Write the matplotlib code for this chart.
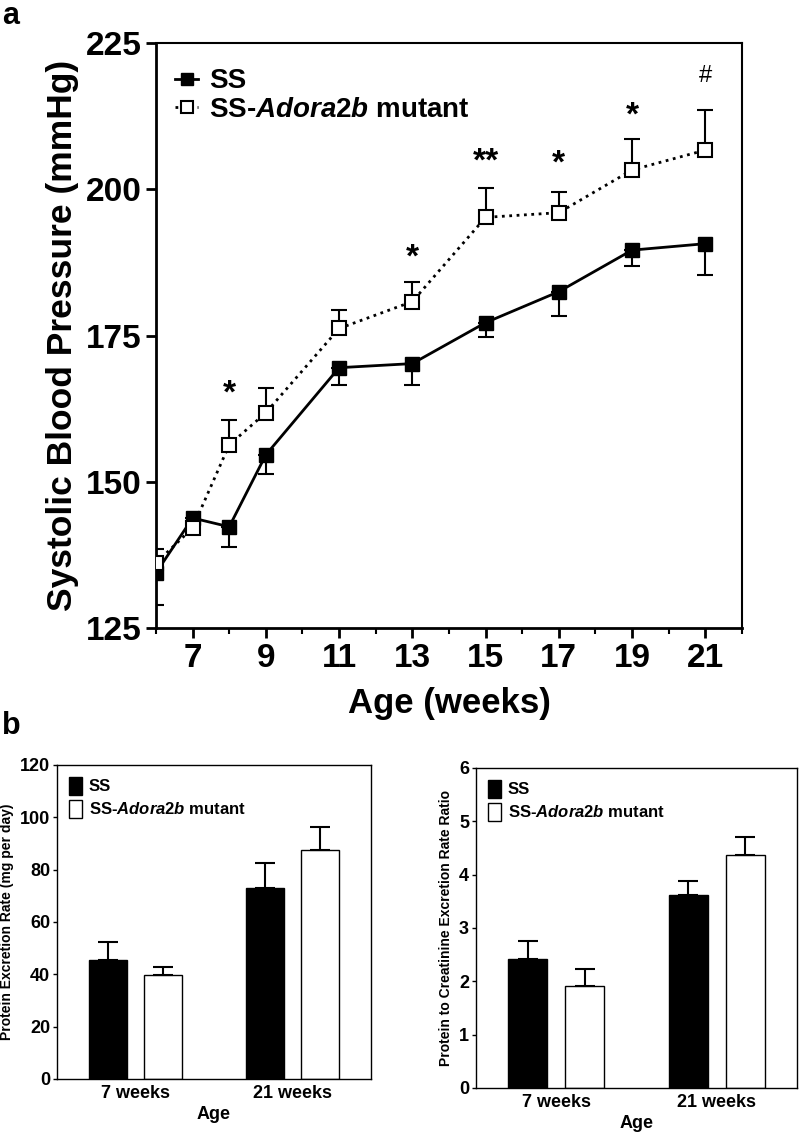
import matplotlib
matplotlib.use("Agg")
import matplotlib.pyplot as plt
from matplotlib.patches import Patch
from matplotlib.lines import Line2D

plt.rcParams['font.family'] = ['Liberation Sans', 'DejaVu Sans']
plt.rcParams['font.weight'] = 'bold'
plt.rcParams['axes.labelweight'] = 'bold'
plt.rcParams['mathtext.fontset'] = 'custom'
plt.rcParams['mathtext.it'] = 'Liberation Sans:italic:bold'
plt.rcParams['mathtext.rm'] = 'Liberation Sans:bold'

# Data - panel a
weeks = [6, 7, 8, 9, 11, 13, 15, 17, 19, 21]
ss_bp = [134.4, 143.8, 142.3, 154.6, 169.5, 170.2, 177.2, 182.5, 189.6, 190.7]
ss_err = [5.5, 0.8, 3.4, 3.2, 2.9, 3.6, 2.5, 4.1, 2.8, 5.3]
mut_bp = [136.1, 142.1, 156.3, 161.8, 176.2, 180.8, 195.2, 196.0, 203.3, 206.7]
mut_err = [2.4, 0.8, 4.3, 4.3, 3.1, 3.4, 5.0, 3.5, 5.3, 6.8]
sig_weeks = [8, 13, 15, 17, 19, 21]
sig_marks = ["*", "*", "**", "*", "*", "#"]
sig_y = [165.0, 188.3, 204.6, 204.3, 212.6, 219.3]

# Data - panel b
ages = ["7 weeks", "21 weeks"]
prot_ss = [45.5, 73.0]
prot_ss_err = [6.8, 9.5]
prot_mut = [39.7, 87.5]
prot_mut_err = [3.1, 8.8]
ratio_ss = [2.42, 3.62]
ratio_ss_err = [0.34, 0.26]
ratio_mut = [1.91, 4.37]
ratio_mut_err = [0.32, 0.34]

mut_label = r"SS-$\it{Adora2b}$ mutant"

fig = plt.figure(figsize=(7.99, 11.36), dpi=100)

# ---- panel a
ax = fig.add_axes([0.1952, 0.4472, 0.7334, 0.5149])
zeros = [0] * len(weeks)
ax.errorbar(weeks, ss_bp, yerr=[ss_err, zeros], color='black', lw=2.0,
            marker='s', ms=9.5, mfc='black', mec='black', capsize=6, capthick=1.5,
            elinewidth=1.5, zorder=3)
ax.errorbar(weeks, mut_bp, yerr=[zeros, mut_err], color='black', lw=2.0, ls=':',
            marker='s', ms=9.5, mfc='white', mec='black', mew=1.5, capsize=6,
            capthick=1.5, elinewidth=1.5, zorder=4)
for w, m, y in zip(sig_weeks, sig_marks, sig_y):
    if m == "#":
        ax.text(w, y, m, ha='center', va='center', fontsize=17, fontweight='normal')
    else:
        ax.text(w, y, m, ha='center', va='center', fontsize=24)

ax.set_xlim(6, 22)
ax.set_ylim(125, 225)
ax.set_xticks([7, 9, 11, 13, 15, 17, 19, 21])
ax.set_xticks([6, 8, 10, 12, 14, 16, 18, 20, 22], minor=True)
ax.set_yticks([125, 150, 175, 200, 225])
ax.tick_params(axis='both', which='major', labelsize=24, length=7, width=2, direction='out')
ax.tick_params(axis='x', which='minor', length=4, width=1.5)
for s in ['left', 'bottom']:
    ax.spines[s].set_linewidth(2)
for s in ['top', 'right']:
    ax.spines[s].set_linewidth(1.5)
ax.set_ylabel("Systolic Blood Pressure (mmHg)", fontsize=25.5, labelpad=5)
ax.set_xlabel("Age (weeks)", fontsize=25, labelpad=10)

handles = [Line2D([], [], color='black', lw=2, marker='s', ms=8, mfc='black'),
           Line2D([], [], color='black', lw=2, ls=':', marker='s', ms=8,
                  mfc='white', mew=1.5)]
ax.legend(handles, ["SS", mut_label], loc='upper left', frameon=False,
          fontsize=20, handlelength=0.8, handletextpad=0.4, labelspacing=0.1,
          borderaxespad=0.3, bbox_to_anchor=(0.0, 0.99))

fig.text(0.003, 0.999, "a", fontsize=22, va='top', ha='left')
fig.text(0.003, 0.374, "b", fontsize=22, va='top', ha='left')


def bar_panel(axb, ss, ss_e, mut, mut_e, ylim, yticks, ylabel):
    x = [0, 1]
    off = 0.178
    w = 0.242
    xs = [v - off for v in x]
    xm = [v + off for v in x]
    axb.bar(xs, ss, width=w, color='black', edgecolor='black', lw=1)
    axb.bar(xm, mut, width=w, color='white', edgecolor='black', lw=1)
    axb.errorbar(xs, ss, yerr=[[0, 0], ss_e], fmt='none', ecolor='black',
                 elinewidth=1.5, capsize=7, capthick=1.5)
    axb.errorbar(xm, mut, yerr=[[0, 0], mut_e], fmt='none', ecolor='black',
                 elinewidth=1.5, capsize=7, capthick=1.5)
    axb.set_xlim(-0.5, 1.5)
    axb.set_ylim(*ylim)
    axb.set_yticks(yticks)
    axb.set_xticks(x)
    axb.set_xticklabels(ages)
    axb.tick_params(axis='y', labelsize=13, length=3, width=1, pad=2)
    axb.tick_params(axis='x', labelsize=13, length=0, pad=4)
    for s in axb.spines.values():
        s.set_linewidth(1)
    axb.set_ylabel(ylabel, fontsize=10, labelpad=4)
    axb.set_xlabel("Age", fontsize=13, labelpad=3)
    hb = [Patch(facecolor='black', edgecolor='black'),
          Patch(facecolor='white', edgecolor='black')]
    axb.legend(hb, ["SS", mut_label], loc='upper left', frameon=False, fontsize=12,
               handlelength=0.8, handleheight=1.3, handletextpad=0.4,
               labelspacing=0.3, borderaxespad=0.3)


ax1 = fig.add_axes([0.0713, 0.0502, 0.393, 0.2764])
bar_panel(ax1, prot_ss, prot_ss_err, prot_mut, prot_mut_err, (0, 120),
          [0, 20, 40, 60, 80, 100, 120], "Protein Excretion Rate (mg per day)")

ax2 = fig.add_axes([0.5957, 0.0423, 0.4018, 0.2817])
bar_panel(ax2, ratio_ss, ratio_ss_err, ratio_mut, ratio_mut_err, (0, 6),
          [0, 1, 2, 3, 4, 5, 6], "Protein to Creatinine Excretion Rate Ratio")

fig.savefig("out.png", dpi=100)
